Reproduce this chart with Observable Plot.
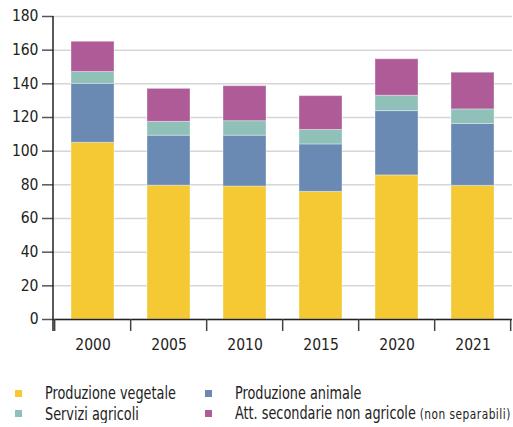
<!DOCTYPE html>
<html>
<head>
<meta charset="utf-8">
<script src="https://cdn.jsdelivr.net/npm/d3@7"></script>
<script src="https://cdn.jsdelivr.net/npm/@observablehq/plot@0.6"></script>
<style>
  body { margin: 0; background: #fff; font-family: "DejaVu Sans Condensed", "Liberation Sans", sans-serif; overflow: hidden; }
  #chart { width: 513px; height: 368px; }
  .legend { display: grid; grid-template-columns: 190px 310px; margin-left: 15px; margin-top: 16px; row-gap: 2px; font-size: 17px; line-height: 18px; color: #222; }
  .item { display: flex; align-items: center; white-space: nowrap; }
  .sw { width: 7px; height: 7px; margin-right: 23px; flex: none; }
  .txt { display: inline-block; transform: scaleX(0.84); transform-origin: left center; }
  .small { font-size: 14px; letter-spacing: 0.6px; }
</style>
</head>
<body>
<div id="chart"></div>
<script>
const years = ["2000", "2005", "2010", "2015", "2020", "2021"];
const series = ["Produzione vegetale", "Produzione animale", "Servizi agricoli", "Att. secondarie non agricole"];
const colors = ["#F5C934", "#6A8AB3", "#8FC1B8", "#AE5B98"];
const vegetale  = [105, 79.5, 79, 75.8, 85.6, 79.4];
const animale   = [35, 29.7, 30.2, 28.2, 38.2, 36.8];
const servizi   = [7, 8.2, 8.6, 8.6, 9.1, 8.6];
const secondarie = [18, 19.6, 20.8, 20.1, 21.7, 21.8];
const yTicks = [0, 20, 40, 60, 80, 100, 120, 140, 160, 180];

const valuesBySeries = [vegetale, animale, servizi, secondarie];
const data = [];
series.forEach((s, si) => years.forEach((y, yi) => data.push({year: y, series: s, value: valuesBySeries[si][yi]})));

const padIn = 0.43;
const font = '"DejaVu Sans Condensed", "Liberation Sans", sans-serif';

const chart = Plot.plot({
  width: 513,
  height: 368,
  marginLeft: 53,
  marginRight: 1,
  marginTop: 16,
  marginBottom: 49,
  style: {fontFamily: font, fontSize: "15px", color: "#222", background: "#fff"},
  x: {domain: years, paddingInner: padIn, paddingOuter: padIn / 2, label: null},
  y: {domain: [0, 180], ticks: yTicks, label: null},
  color: {domain: series, range: colors},
  marks: [
    Plot.gridY(yTicks, {stroke: "#d6d6d6", strokeOpacity: 1, strokeWidth: 1.5}),
    Plot.barY(data, {x: "year", y: "value", fill: "series", order: series, stroke: "#fff", strokeOpacity: 0.35, strokeWidth: 1}),
    Plot.axisY(yTicks, {tickSize: 11, tickPadding: 4, stroke: "#555", strokeWidth: 1.5, fill: "#222", fontSize: 15.5}),
    Plot.axisX({tickSize: 0, tickPadding: 19, fill: "#222", fontSize: 15.5}),
    Plot.ruleY([0], {stroke: "#222", strokeWidth: 1.5}),
    (index, scales, values, dims) => {
      const g = d3.create("svg:g");
      const xs = years.map(d => scales.x(d));
      const step = xs[1] - xs[0];
      const gap = step * padIn;
      const bounds = xs.map(x => x - gap / 2);
      bounds.push(xs[xs.length - 1] + step - gap / 2);
      const y0 = scales.y(0);
      g.selectAll("line.b").data(bounds).join("line")
        .attr("x1", d => d).attr("x2", d => d)
        .attr("y1", y0).attr("y2", y0 + 12)
        .attr("stroke", "#444").attr("stroke-width", 1.5);
      g.append("line")
        .attr("x1", dims.marginLeft).attr("x2", dims.marginLeft)
        .attr("y1", scales.y(180)).attr("y2", y0 + 12)
        .attr("stroke", "#222").attr("stroke-width", 1.5);
      return g.node();
    }
  ]
});
document.getElementById("chart").appendChild(chart);

const legend = document.createElement("div");
legend.className = "legend";
[0, 1, 2, 3].forEach(i => {
  const it = document.createElement("div");
  it.className = "item";
  const sw = document.createElement("span");
  sw.className = "sw";
  sw.style.background = colors[i];
  it.appendChild(sw);
  const t = document.createElement("span");
  t.className = "txt";
  t.textContent = series[i];
  if (i === 3) {
    const s = document.createElement("span");
    s.className = "small";
    s.textContent = " (non separabili)";
    t.appendChild(s);
  }
  it.appendChild(t);
  legend.appendChild(it);
});
document.body.appendChild(legend);
</script>
</body>
</html>
